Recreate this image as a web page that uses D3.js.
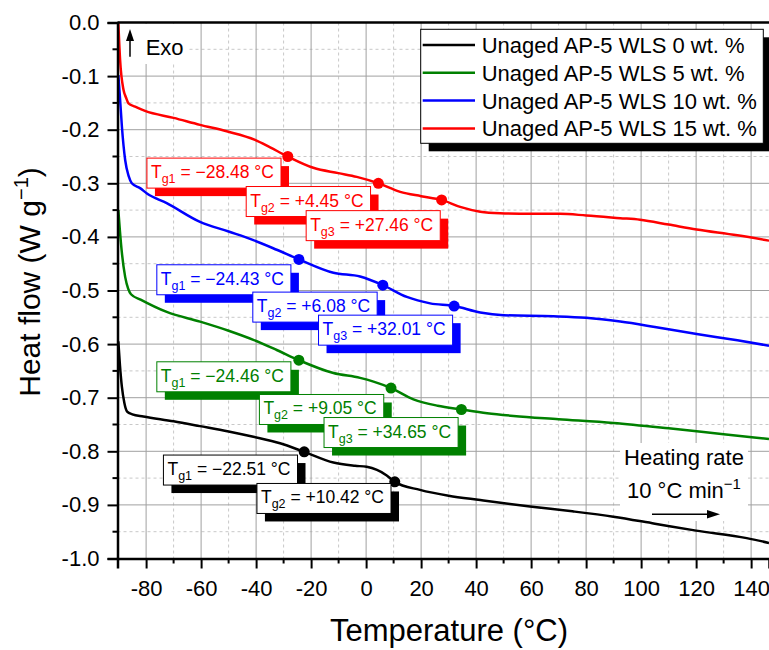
<!DOCTYPE html>
<html>
<head>
<meta charset="utf-8">
<script src="https://cdn.jsdelivr.net/npm/d3@7"></script>
<style>
  body { margin: 0; background: #fff; }
  svg { font-family: "Liberation Sans", Arial, sans-serif; }
</style>
</head>
<body>
<div id="chart"></div>
<script>
var W = 769, H = 650;
var mLeft = 117.5, mTop = 22.5;
var width = W - mLeft, height = 536;

// ---- data ----
var seriesNames = ["Unaged AP-5 WLS 0 wt. %", "Unaged AP-5 WLS 5 wt. %",
                   "Unaged AP-5 WLS 10 wt. %", "Unaged AP-5 WLS 15 wt. %"];
var seriesColors = ["#000000", "#008000", "#0000ff", "#ff0000"];

var temp0 = [-90.1, -89.5, -88.8, -87.9, -86.9, -85, -81, -70, -60.4, -50, -41, -31.3, -22.51, -11.9, -4, 0.2, 7.5, 10.42, 19.6, 30, 41.5, 59.6, 75, 89.9, 105, 120, 138.4, 146.5];
var flow0 = [-0.595, -0.64, -0.68, -0.71, -0.726, -0.731, -0.735, -0.744, -0.753, -0.763, -0.773, -0.785, -0.801, -0.821, -0.827, -0.829, -0.845, -0.857, -0.872, -0.883, -0.891, -0.903, -0.912, -0.922, -0.935, -0.948, -0.962, -0.971];

var temp5 = [-90.1, -89.5, -88.8, -87.6, -86.5, -85.5, -82, -72.5, -60.4, -50, -41, -32.5, -24.46, -11.9, -2.2, 2.7, 9.05, 17.2, 26, 34.65, 44, 53.6, 70, 89.9, 110, 130, 146.5];
var flow5 = [-0.35, -0.39, -0.43, -0.475, -0.497, -0.507, -0.517, -0.54, -0.558, -0.575, -0.592, -0.611, -0.63, -0.654, -0.663, -0.67, -0.682, -0.703, -0.715, -0.722, -0.729, -0.734, -0.74, -0.747, -0.757, -0.768, -0.777];

var temp10 = [-90.1, -89.5, -88.8, -87.6, -86.3, -85.2, -82.2, -79.7, -72.5, -60.4, -50, -41, -32.5, -24.43, -11.9, -2.2, 6.08, 14.8, 23.3, 32.01, 41.5, 50, 68.1, 80, 92.4, 105, 120.2, 135, 146.5];
var flow10 = [-0.098, -0.14, -0.194, -0.257, -0.287, -0.3, -0.309, -0.319, -0.337, -0.372, -0.39, -0.406, -0.424, -0.442, -0.467, -0.474, -0.49, -0.512, -0.524, -0.529, -0.541, -0.546, -0.548, -0.551, -0.558, -0.568, -0.581, -0.593, -0.603];

var temp15 = [-90.1, -89.45, -88.2, -87.3, -86.4, -84, -80.4, -70, -60.4, -50.7, -40.4, -34.9, -28.48, -19.2, -10.1, -3.4, 4.45, 12.4, 20, 27.46, 34.2, 41.5, 48.7, 60, 70.5, 80, 92.4, 99.6, 110, 120.2, 135, 146.5];
var flow15 = [0.0, -0.07, -0.126, -0.14, -0.151, -0.157, -0.165, -0.178, -0.191, -0.203, -0.219, -0.233, -0.25, -0.271, -0.281, -0.288, -0.3, -0.316, -0.324, -0.331, -0.344, -0.353, -0.356, -0.357, -0.357, -0.36, -0.365, -0.368, -0.377, -0.386, -0.397, -0.407];

// glass transitions per series (temperature, heat flow at the dot)
var tg0 = [-22.51, 10.42], tgFlow0 = [-0.801, -0.857];
var tg5 = [-24.46, 9.05, 34.65], tgFlow5 = [-0.63, -0.682, -0.722];
var tg10 = [-24.43, 6.08, 32.01], tgFlow10 = [-0.442, -0.49, -0.529];
var tg15 = [-28.48, 4.45, 27.46], tgFlow15 = [-0.25, -0.3, -0.331];

// where each label box sits (top-left corner, in data units)
var labelT0 = [-73.7, -39.7], labelF0 = [-0.807, -0.86];
var labelT5 = [-76.1, -38.8, -15.3], labelF5 = [-0.633, -0.694, -0.737];
var labelT10 = [-76.1, -41.2, -17.3], labelF10 = [-0.452, -0.503, -0.546];
var labelT15 = [-79.7, -43.6, -21.8], labelF15 = [-0.253, -0.306, -0.351];

var xTicks = [-80, -60, -40, -20, 0, 20, 40, 60, 80, 100, 120, 140];
var xMinor = [-70, -50, -30, -10, 10, 30, 50, 70, 90, 110, 130];
var yTicks = [0, -0.1, -0.2, -0.3, -0.4, -0.5, -0.6, -0.7, -0.8, -0.9, -1.0];
var yMinor = [-0.05, -0.15, -0.25, -0.35, -0.45, -0.55, -0.65, -0.75, -0.85, -0.95];

var curves = [
  {t: temp0, f: flow0, tg: tg0, tf: tgFlow0, lt: labelT0, lf: labelF0},
  {t: temp5, f: flow5, tg: tg5, tf: tgFlow5, lt: labelT5, lf: labelF5},
  {t: temp10, f: flow10, tg: tg10, tf: tgFlow10, lt: labelT10, lf: labelF10},
  {t: temp15, f: flow15, tg: tg15, tf: tgFlow15, lt: labelT15, lf: labelF15}
];

var svg = d3.select("#chart").append("svg")
    .attr("width", W).attr("height", H);

var x = d3.scaleLinear().domain([-90.4, 146.5]).range([0, width]);
var y = d3.scaleLinear().domain([-1, 0]).range([height, 0]);

svg.append("defs").append("clipPath").attr("id", "clip")
  .append("rect").attr("width", width).attr("height", height);

var g = svg.append("g").attr("transform", "translate(" + mLeft + "," + mTop + ")");

// grid
var grid = g.append("g");
grid.selectAll(".vmin").data(xMinor).enter().append("line")
    .attr("x1", d => x(d)).attr("x2", d => x(d)).attr("y1", 0).attr("y2", height)
    .attr("stroke", "#c8c8c8").attr("stroke-dasharray", "3,3");
grid.selectAll(".hmin").data(yMinor).enter().append("line")
    .attr("x1", 0).attr("x2", width).attr("y1", d => y(d)).attr("y2", d => y(d))
    .attr("stroke", "#c8c8c8").attr("stroke-dasharray", "3,3");
grid.selectAll(".vmaj").data(xTicks).enter().append("line")
    .attr("x1", d => x(d)).attr("x2", d => x(d)).attr("y1", 0).attr("y2", height)
    .attr("stroke", "#a0a0a0");
grid.selectAll(".hmaj").data(yTicks.slice(1, -1)).enter().append("line")
    .attr("x1", 0).attr("x2", width).attr("y1", d => y(d)).attr("y2", d => y(d))
    .attr("stroke", "#a0a0a0");

// white patches behind "Exo" and the heating-rate note
g.append("rect").attr("x", 122 - mLeft).attr("y", 24 - mTop).attr("width", 66).attr("height", 40).attr("fill", "#fff");
g.append("rect").attr("x", 620 - mLeft).attr("y", 443 - mTop).attr("width", 128).attr("height", 78).attr("fill", "#fff");

// curves
var line = d3.line().curve(d3.curveMonotoneX)
    .x(d => x(d[0])).y(d => y(d[1]));
var plot = g.append("g").attr("clip-path", "url(#clip)");
curves.forEach(function(c, i) {
  plot.append("path")
      .datum(c.t.map((t, k) => [t, c.f[k]]))
      .attr("fill", "none")
      .attr("stroke", seriesColors[i])
      .attr("stroke-width", 2.5)
      .attr("d", line);
});

// axes
var axisLeft = d3.axisLeft(y).tickValues(yTicks).tickSize(10).tickPadding(8)
    .tickFormat(d => d === 0 ? "0.0" : d3.format(".1f")(d).replace("−", "-"));
var gy = g.append("g").call(axisLeft);
gy.append("g").selectAll("line").data(yMinor).enter().append("line")
    .attr("x1", -5).attr("x2", 0).attr("y1", d => y(d)).attr("y2", d => y(d))
    .attr("stroke", "#000").attr("stroke-width", 2);

var axisBottom = d3.axisBottom(x).tickValues(xTicks).tickSize(10).tickPadding(12)
    .tickFormat(d => String(d));
var gx = g.append("g").attr("transform", "translate(0," + height + ")").call(axisBottom);
gx.append("g").selectAll("line").data(xMinor).enter().append("line")
    .attr("x1", d => x(d)).attr("x2", d => x(d)).attr("y1", 0).attr("y2", 5)
    .attr("stroke", "#000").attr("stroke-width", 2);

[gx, gy].forEach(function(a) {
  a.select(".domain").attr("stroke-width", 2.5);
  a.selectAll(".tick line").attr("stroke-width", 2);
  a.selectAll("text").attr("font-size", 22).attr("font-family", "Liberation Sans, Arial, sans-serif").attr("fill", "#000");
});

// top frame line
g.append("line").attr("x1", 0).attr("x2", width).attr("y1", 0).attr("y2", 0)
    .attr("stroke", "#000").attr("stroke-width", 2.5);

// Tg dots
curves.forEach(function(c, i) {
  g.selectAll(null).data(c.tg).enter().append("circle")
      .attr("cx", d => x(d))
      .attr("cy", (d, k) => y(c.tf[k]))
      .attr("r", 5.5)
      .attr("fill", seriesColors[i]);
});

// Tg label boxes with drop shadow
function fmtTg(v) {
  return (v < 0 ? "\u2212" : "+") + Math.abs(v).toFixed(2) + " \u00B0C";
}
curves.forEach(function(c, i) {
  var col = seriesColors[i];
  c.tg.forEach(function(tg, k) {
    var bx = x(c.lt[k]), by = y(c.lf[k]);
    var lab = g.append("g");
    var shadow = lab.append("rect").attr("fill", col);
    var box = lab.append("rect").attr("fill", "#fff").attr("stroke", col).attr("stroke-width", 1);
    var txt = lab.append("text").attr("x", bx + 4).attr("y", by + 20)
        .attr("font-size", 17.5).attr("fill", col);
    txt.append("tspan").text("T");
    txt.append("tspan").attr("font-size", 12.5).attr("dy", 5).text("g" + (k + 1));
    txt.append("tspan").attr("dy", -5).text(" = " + fmtTg(tg));
    var bw = txt.node().getBBox().width + 11;
    box.attr("x", bx).attr("y", by).attr("width", bw).attr("height", 30);
    shadow.attr("x", bx + 8).attr("y", by + 8).attr("width", bw).attr("height", 30);
  });
});

// legend
var leg = svg.append("g");
var lx = 420.7, ly = 29.3, lw = 342.6, lh = 114;
leg.append("rect").attr("x", lx + 8).attr("y", ly + 8).attr("width", lw).attr("height", lh).attr("fill", "#000");
leg.append("rect").attr("x", lx).attr("y", ly).attr("width", lw).attr("height", lh)
    .attr("fill", "#fff").attr("stroke", "#000").attr("stroke-width", 1);
seriesNames.forEach(function(n, i) {
  var yy = 45 + i * 27.8;
  leg.append("line").attr("x1", 422.7).attr("x2", 475).attr("y1", yy).attr("y2", yy)
      .attr("stroke", seriesColors[i]).attr("stroke-width", 2.5);
  leg.append("text").attr("x", 481.7).attr("y", yy + 8).attr("font-size", 22).text(n);
});

// Exo arrow
svg.append("line").attr("x1", 130).attr("x2", 130).attr("y1", 56.7).attr("y2", 38)
    .attr("stroke", "#000").attr("stroke-width", 1.5);
svg.append("path").attr("d", "M130,29 L126,41 L134,41 Z").attr("fill", "#000");
svg.append("text").attr("x", 145.7).attr("y", 55).attr("font-size", 22).text("Exo");

// heating rate note
svg.append("text").attr("x", 684).attr("y", 465).attr("font-size", 22)
    .attr("text-anchor", "middle").text("Heating rate");
var hr = svg.append("text").attr("x", 684).attr("y", 498).attr("font-size", 22)
    .attr("text-anchor", "middle");
hr.append("tspan").text("10 \u00B0C min");
hr.append("tspan").attr("font-size", 15).attr("dy", -9).text("\u22121");
svg.append("line").attr("x1", 652).attr("x2", 710).attr("y1", 514.3).attr("y2", 514.3)
    .attr("stroke", "#000").attr("stroke-width", 1.5);
svg.append("path").attr("d", "M720,514.3 L707,510 L707,518.6 Z").attr("fill", "#000");

// axis titles
svg.append("text").attr("x", 449).attr("y", 641).attr("font-size", 31)
    .attr("text-anchor", "middle").text("Temperature (\u00B0C)");
var yt = svg.append("text").attr("transform", "translate(40,282) rotate(-90)")
    .attr("font-size", 30).attr("text-anchor", "middle");
yt.append("tspan").text("Heat flow (W g");
yt.append("tspan").attr("font-size", 20).attr("dy", -12).text("\u22121");
yt.append("tspan").attr("dy", 12).text(")");
</script>
</body>
</html>
